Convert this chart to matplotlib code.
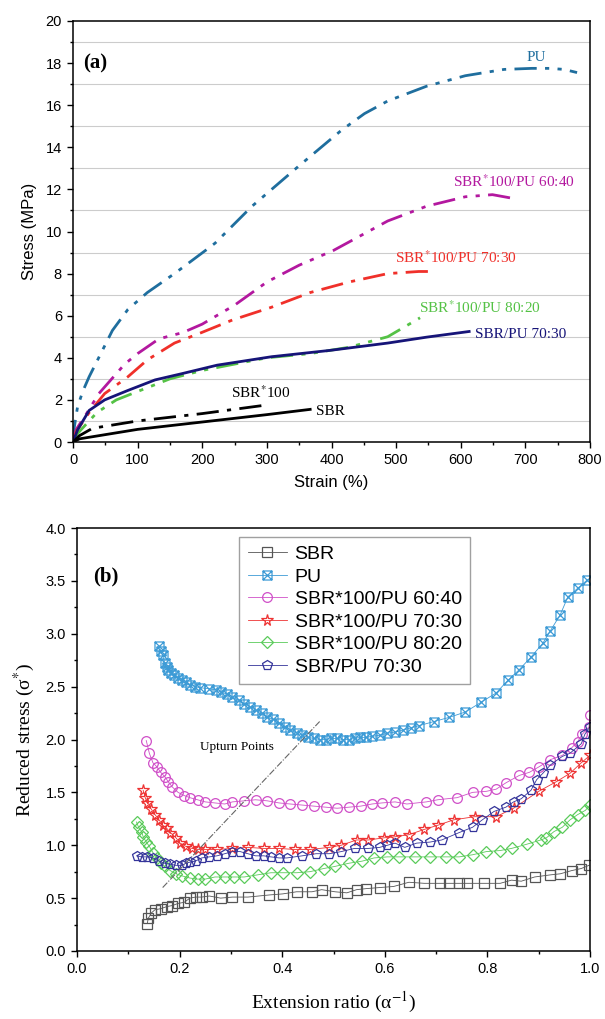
import matplotlib
matplotlib.use("Agg")
import matplotlib.pyplot as plt
from matplotlib.path import Path
from matplotlib.ticker import MultipleLocator, FormatStrFormatter

plt.rcParams['font.family'] = ['Liberation Sans', 'DejaVu Sans']
plt.rcParams['mathtext.fontset'] = 'stix'

# ---- panel (a): stress-strain ----
pu_strain = [0, 2, 7, 15, 25, 43, 61, 85, 115, 157, 205, 220, 277, 349, 415, 451, 487, 547, 607, 667, 710, 738, 760, 780]
pu_stress = [0, 0.7, 1.66, 2.4, 3.1, 4.2, 5.3, 6.3, 7.1, 8.0, 9.1, 9.45, 11.2, 13.1, 14.8, 15.6, 16.2, 16.9, 17.4, 17.7, 17.75, 17.75, 17.7, 17.55]
b6040_strain = [0, 5, 20, 40, 60, 80, 100, 133, 170, 200, 250, 300, 350, 403, 487, 547, 607, 649, 685]
b6040_stress = [0, 0.6, 1.3, 2.3, 3.0, 3.7, 4.2, 4.9, 5.2, 5.6, 6.5, 7.6, 8.4, 9.1, 10.5, 11.2, 11.65, 11.75, 11.55]
b7030_strain = [0, 5, 25, 49, 85, 115, 157, 199, 247, 307, 367, 427, 487, 535, 562]
b7030_stress = [0, 0.5, 1.4, 2.3, 3.1, 3.9, 4.7, 5.2, 5.8, 6.4, 7.1, 7.6, 8.0, 8.1, 8.1]
b8020_strain = [0, 7, 37, 67, 100, 150, 200, 250, 300, 367, 427, 487, 537]
b8020_stress = [0, 0.4, 1.4, 2.0, 2.4, 3.0, 3.4, 3.7, 4.0, 4.2, 4.5, 5.0, 5.9]
sbrpu_strain = [0, 7, 25, 49, 85, 127, 169, 223, 307, 397, 487, 547, 613]
sbrpu_stress = [0, 0.57, 1.5, 2.0, 2.45, 2.95, 3.25, 3.65, 4.05, 4.35, 4.7, 4.98, 5.25]
sbr100_strain = [0, 10, 30, 100, 200, 300]
sbr100_stress = [0, 0.3, 0.65, 1.0, 1.35, 1.76]
sbr_strain = [0, 10, 100, 200, 300, 367]
sbr_stress = [0, 0.15, 0.6, 0.95, 1.3, 1.55]

# ---- panel (b): reduced stress vs extension ratio ----
sbr_x = [0.137, 0.139, 0.145, 0.152, 0.163, 0.175, 0.186, 0.197, 0.209, 0.220, 0.231, 0.243, 0.258, 0.280, 0.303, 0.333,
         0.375, 0.401, 0.428, 0.458, 0.477, 0.503, 0.526, 0.545, 0.564, 0.590, 0.617, 0.647, 0.677, 0.707, 0.726, 0.745,
         0.760, 0.794, 0.825, 0.847, 0.866, 0.892, 0.923, 0.942, 0.964, 0.983, 0.998]
sbr_y = [0.26, 0.31, 0.36, 0.39, 0.40, 0.42, 0.43, 0.45, 0.46, 0.50, 0.51, 0.51, 0.52, 0.50, 0.51, 0.51,
         0.53, 0.54, 0.56, 0.56, 0.58, 0.56, 0.55, 0.58, 0.59, 0.60, 0.61, 0.65, 0.64, 0.64, 0.64, 0.64,
         0.64, 0.64, 0.64, 0.67, 0.66, 0.70, 0.72, 0.73, 0.76, 0.78, 0.81]
pu_x = [0.160, 0.163, 0.167, 0.171, 0.175, 0.178, 0.183, 0.189, 0.197, 0.205, 0.212, 0.220, 0.230, 0.239, 0.258, 0.270,
        0.280, 0.292, 0.303, 0.315, 0.326, 0.337, 0.348, 0.360, 0.371, 0.383, 0.394, 0.405, 0.416, 0.428, 0.439, 0.450,
        0.462, 0.474, 0.485, 0.496, 0.507, 0.518, 0.530, 0.541, 0.552, 0.563, 0.575, 0.590, 0.605, 0.620, 0.636, 0.651,
        0.666, 0.696, 0.726, 0.757, 0.787, 0.817, 0.840, 0.862, 0.885, 0.908, 0.923, 0.942, 0.957, 0.976, 0.995]
pu_y = [2.88, 2.84, 2.80, 2.72, 2.69, 2.66, 2.63, 2.61, 2.58, 2.56, 2.54, 2.52, 2.50, 2.49, 2.48, 2.47,
        2.45, 2.43, 2.40, 2.37, 2.34, 2.31, 2.28, 2.25, 2.21, 2.19, 2.16, 2.12, 2.09, 2.06, 2.04, 2.02,
        2.01, 2.00, 2.00, 2.01, 2.01, 2.00, 2.00, 2.01, 2.02, 2.02, 2.03, 2.04, 2.06, 2.07, 2.09, 2.11,
        2.13, 2.17, 2.21, 2.26, 2.35, 2.44, 2.56, 2.66, 2.78, 2.91, 3.03, 3.18, 3.35, 3.43, 3.51]
b6040_x = [0.135, 0.141, 0.148, 0.156, 0.163, 0.171, 0.178, 0.186, 0.197, 0.209, 0.220, 0.235, 0.250, 0.269, 0.288, 0.303,
           0.326, 0.348, 0.371, 0.394, 0.416, 0.439, 0.462, 0.485, 0.507, 0.530, 0.553, 0.575, 0.594, 0.620, 0.643, 0.681,
           0.703, 0.741, 0.771, 0.798, 0.817, 0.836, 0.862, 0.882, 0.900, 0.923, 0.946, 0.964, 0.976, 0.985, 0.998, 1.0]
b6040_y = [1.99, 1.87, 1.78, 1.74, 1.69, 1.65, 1.60, 1.55, 1.50, 1.47, 1.45, 1.43, 1.41, 1.40, 1.39, 1.41,
           1.42, 1.43, 1.42, 1.40, 1.39, 1.38, 1.37, 1.36, 1.35, 1.36, 1.37, 1.39, 1.40, 1.41, 1.39, 1.41,
           1.43, 1.45, 1.50, 1.51, 1.53, 1.59, 1.66, 1.69, 1.74, 1.81, 1.85, 1.92, 1.98, 2.05, 2.12, 2.23]
b7030_x = [0.129, 0.133, 0.137, 0.145, 0.152, 0.160, 0.167, 0.175, 0.182, 0.193, 0.201, 0.212, 0.224, 0.235, 0.250, 0.273,
           0.303, 0.333, 0.364, 0.394, 0.424, 0.454, 0.492, 0.515, 0.545, 0.568, 0.598, 0.620, 0.647, 0.677, 0.704, 0.734,
           0.775, 0.817, 0.851, 0.900, 0.934, 0.961, 0.983, 1.0]
b7030_y = [1.52, 1.45, 1.40, 1.34, 1.29, 1.24, 1.19, 1.16, 1.12, 1.07, 1.02, 0.99, 0.97, 0.96, 0.96, 0.96,
           0.97, 0.98, 0.97, 0.97, 0.96, 0.96, 0.98, 1.00, 1.05, 1.05, 1.07, 1.08, 1.10, 1.15, 1.19, 1.24,
           1.27, 1.27, 1.35, 1.51, 1.60, 1.68, 1.78, 1.85]
b8020_x = [0.116, 0.120, 0.126, 0.129, 0.135, 0.141, 0.148, 0.156, 0.163, 0.171, 0.182, 0.193, 0.205, 0.220, 0.235, 0.250,
           0.269, 0.288, 0.307, 0.326, 0.352, 0.378, 0.401, 0.428, 0.454, 0.481, 0.503, 0.530, 0.556, 0.579, 0.605, 0.628,
           0.658, 0.688, 0.719, 0.745, 0.771, 0.798, 0.825, 0.847, 0.877, 0.904, 0.915, 0.930, 0.946, 0.961, 0.976, 0.991, 1.0]
b8020_y = [1.22, 1.17, 1.13, 1.08, 1.03, 0.99, 0.93, 0.88, 0.83, 0.80, 0.76, 0.73, 0.71, 0.69, 0.68, 0.68,
           0.70, 0.70, 0.70, 0.70, 0.72, 0.74, 0.74, 0.74, 0.75, 0.78, 0.80, 0.83, 0.85, 0.88, 0.89, 0.89,
           0.89, 0.89, 0.89, 0.89, 0.91, 0.94, 0.95, 0.97, 1.01, 1.05, 1.07, 1.13, 1.17, 1.24, 1.29, 1.33, 1.38]
sbrpu_x = [0.116, 0.126, 0.137, 0.148, 0.160, 0.171, 0.182, 0.193, 0.205, 0.212, 0.220, 0.231, 0.243, 0.258, 0.273, 0.288,
           0.303, 0.318, 0.333, 0.348, 0.364, 0.378, 0.394, 0.409, 0.439, 0.466, 0.492, 0.515, 0.541, 0.568, 0.590, 0.605,
           0.620, 0.639, 0.662, 0.688, 0.711, 0.745, 0.771, 0.790, 0.813, 0.836, 0.851, 0.866, 0.885, 0.896, 0.908, 0.923,
           0.946, 0.961, 0.983, 0.990, 1.0]
sbrpu_y = [0.90, 0.89, 0.89, 0.88, 0.85, 0.83, 0.82, 0.81, 0.81, 0.83, 0.84, 0.85, 0.88, 0.89, 0.90, 0.92,
           0.94, 0.94, 0.92, 0.90, 0.90, 0.89, 0.88, 0.88, 0.90, 0.92, 0.92, 0.94, 0.97, 0.97, 0.98, 1.00,
           1.02, 0.98, 1.02, 1.03, 1.05, 1.12, 1.17, 1.24, 1.32, 1.36, 1.41, 1.44, 1.52, 1.62, 1.68, 1.76,
           1.84, 1.87, 1.96, 2.05, 2.12]
upturn_x = [0.167, 0.473]
upturn_y = [0.60, 2.17]

W, H = 605, 1019
fig = plt.figure(figsize=(W / 100, H / 100), dpi=100)
serif = ['Liberation Serif', 'DejaVu Serif']

# ---------------- (a) ----------------
ax1 = fig.add_axes([73 / W, 1 - 442 / H, 517 / W, 421 / H])
lw = 2.0
dd = (8, 3, 1.5, 3, 1.5, 3)   # dash-dot-dot
dt = (8, 3, 1.5, 3)           # dash-dot
ax1.plot(pu_strain, pu_stress, color='#1f6e9e', lw=lw, dashes=dd)
ax1.plot(b6040_strain, b6040_stress, color='#b3189f', lw=lw, dashes=dd)
ax1.plot(b7030_strain, b7030_stress, color='#f0302a', lw=lw, dashes=dt)
ax1.plot(b8020_strain, b8020_stress, color='#55c246', lw=lw, dashes=dd)
ax1.plot(sbrpu_strain, sbrpu_stress, color='#161478', lw=lw)
ax1.plot(sbr100_strain, sbr100_stress, color='black', lw=lw, dashes=dt)
ax1.plot(sbr_strain, sbr_stress, color='black', lw=lw)

ax1.set_xlim(0, 800)
ax1.set_ylim(0, 20)
ax1.xaxis.set_major_locator(MultipleLocator(100))
ax1.xaxis.set_minor_locator(MultipleLocator(50))
ax1.yaxis.set_major_locator(MultipleLocator(2))
ax1.yaxis.set_minor_locator(MultipleLocator(1))
for v in range(1, 20, 2):
    ax1.axhline(v, color='#cccccc', lw=0.8, zorder=0)
ax1.set_xlabel('Strain (%)', fontsize=12, labelpad=6)
ax1.set_ylabel('Stress (MPa)', fontsize=12, labelpad=6)

tf = dict(family=serif, fontsize=11)
ax1.text(717, 18.25, 'PU', color='#1f6e9e', ha='center', va='center', **tf)
ax1.text(588, 12.35, 'SBR$^{*}$100/PU 60:40', color='#b3189f', va='center', **tf)
ax1.text(498, 8.75, 'SBR$^{*}$100/PU 70:30', color='#f0302a', va='center', **tf)
ax1.text(535, 6.4, 'SBR$^{*}$100/PU 80:20', color='#55c246', va='center', **tf)
ax1.text(622, 5.1, 'SBR/PU 70:30', color='#161478', va='center', **tf)
ax1.text(245, 2.35, 'SBR$^{*}$100', color='black', va='center', **tf)
ax1.text(376, 1.45, 'SBR', color='black', va='center', **tf)
ax1.text(15, 18.0, '(a)', family=serif, fontsize=15, fontweight='bold', va='center')

# ---------------- (b) ----------------
ax2 = fig.add_axes([77 / W, 1 - 951 / H, 513 / W, 423 / H])
box_x = Path([(-1, -1), (1, -1), (1, 1), (-1, 1), (-1, -1), (-1, -1), (1, 1), (-1, 1), (1, -1)],
             [Path.MOVETO, Path.LINETO, Path.LINETO, Path.LINETO, Path.CLOSEPOLY,
              Path.MOVETO, Path.LINETO, Path.MOVETO, Path.LINETO])
ms = 6.5
series = [
    (sbr_x, sbr_y, 's', '#555555', 'SBR', ms),
    (pu_x, pu_y, box_x, '#3d9bd6', 'PU', ms),
    (b6040_x, b6040_y, 'o', '#d050c8', 'SBR*100/PU 60:40', ms + 0.5),
    (b7030_x, b7030_y, '*', '#ee3333', 'SBR*100/PU 70:30', ms + 2),
    (b8020_x, b8020_y, 'D', '#5acb5a', 'SBR*100/PU 80:20', ms - 0.5),
    (sbrpu_x, sbrpu_y, 'p', '#34349a', 'SBR/PU 70:30', ms + 1),
]
for xs, ys, mk, c, lab, s in series:
    ax2.plot(xs, ys, color=c, lw=0.6, marker=mk, ms=s, mfc='none', mec=c, mew=0.9, label=lab)
ax2.plot(upturn_x, upturn_y, color='#666666', lw=0.8, dashes=(6, 1.5, 1, 1.5))
ax2.text(0.24, 1.93, 'Upturn Points', family=serif, fontsize=9.5, va='center')
ax2.text(0.031, 3.54, '(b)', family=serif, fontsize=15, fontweight='bold', va='center')

ax2.set_xlim(0, 1.0)
ax2.set_ylim(0, 4.0)
ax2.xaxis.set_major_locator(MultipleLocator(0.2))
ax2.xaxis.set_minor_locator(MultipleLocator(0.1))
ax2.yaxis.set_major_locator(MultipleLocator(0.5))
ax2.yaxis.set_minor_locator(MultipleLocator(0.25))
ax2.xaxis.set_major_formatter(FormatStrFormatter('%.1f'))
ax2.yaxis.set_major_formatter(FormatStrFormatter('%.1f'))
ax2.set_xlabel('Extension ratio (α$^{-1}$)', family=serif, fontsize=14, labelpad=10)
ax2.set_ylabel('Reduced stress (σ$^{*}$)', family=serif, fontsize=14, labelpad=6)
leg = ax2.legend(loc='upper left', bbox_to_anchor=(0.316, 0.979), borderaxespad=0, fontsize=14,
                 frameon=True, fancybox=False, edgecolor='#888888', handlelength=2.0,
                 labelspacing=0.25, borderpad=0.45, handletextpad=0.4)
leg.get_frame().set_linewidth(1.0)

for ax in (ax1, ax2):
    ax.tick_params(which='both', direction='out', labelsize=10.5, top=False, right=False)
    ax.tick_params(which='major', length=4.5, width=1)
    ax.tick_params(which='minor', length=2.5, width=1)
    for sp in ax.spines.values():
        sp.set_linewidth(1.1)

fig.savefig('out.png', dpi=100)
